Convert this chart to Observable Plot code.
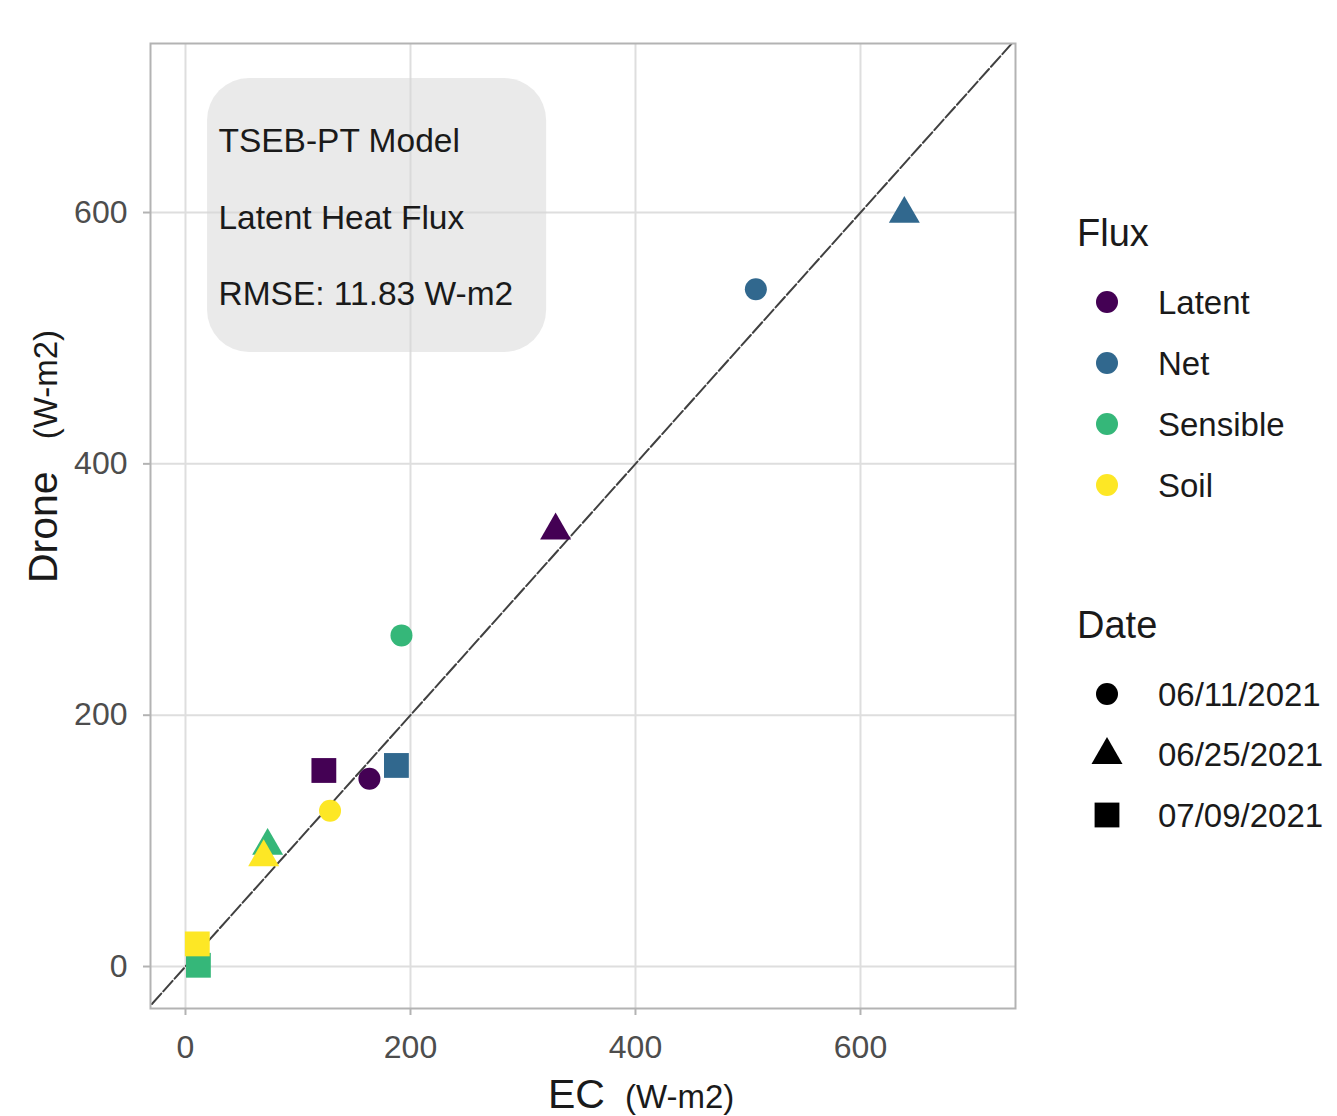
<!DOCTYPE html>
<html>
<head>
<meta charset="utf-8">
<script src="https://cdn.jsdelivr.net/npm/d3@7"></script>
<script src="https://cdn.jsdelivr.net/npm/@observablehq/plot@0.6"></script>
<style>
  body { margin: 0; background: #fff; font-family: "Liberation Sans", Arial, sans-serif; }
  #wrap { position: relative; width: 1337px; height: 1116px; overflow: hidden; }
  .lg { position: absolute; white-space: nowrap; line-height: 1; color: #1a1a1a; }
</style>
</head>
<body>
<div id="wrap"></div>
<script>
// ---- data ----
const fluxNames = ["Latent", "Net", "Sensible", "Soil"];
const fluxColors = ["#440154", "#31688E", "#35B779", "#FDE725"];
const dateLabels = ["06/11/2021", "06/25/2021", "07/09/2021"];
const dateSymbols = ["circle", "triangle", "square"];
const dateSizes = [11, 11.5, 14];

const pointFlux = ["Latent", "Latent", "Latent", "Net", "Net", "Net",
                   "Sensible", "Sensible", "Sensible", "Soil", "Soil", "Soil"];
const pointDate = ["06/11/2021", "06/25/2021", "07/09/2021",
                   "06/11/2021", "06/25/2021", "07/09/2021",
                   "06/11/2021", "06/25/2021", "07/09/2021",
                   "06/11/2021", "06/25/2021", "07/09/2021"];
const ecValues    = [163.5, 329, 123, 507, 639, 187.5, 192, 73, 11.5, 128.5, 69.5, 10.5];
const droneValues = [149.5, 347, 156, 539, 599, 160, 263.5, 96, 1, 124, 87, 18];

const xTicks = [0, 200, 400, 600];
const yTicks = [0, 200, 400, 600];
const xDomain = [-31.1, 737.8];
const yDomain = [-33.4, 734.5];
const oneToOne = [-50, 780];

const annoLines = ["TSEB-PT Model", "Latent Heat Flux", "RMSE: 11.83 W-m2"];
const annoBox = [{x1: 19.6, x2: 321, y1: 488.6, y2: 706.6}];
const annoText = [{x: 29.3, y: 606.5, label: annoLines.join("\n")}];

const points = pointFlux.map((f, i) => ({flux: f, date: pointDate[i], ec: ecValues[i], drone: droneValues[i]}));

const font = '"Liberation Sans", Arial, sans-serif';

const dotMarks = dateLabels.map((d, i) =>
  Plot.dot(points.filter(p => p.date === d), {
    x: "ec", y: "drone", fill: "flux", symbol: "date", r: dateSizes[i], stroke: "none"
  })
);

const plot = Plot.plot({
  width: 1337,
  height: 1116,
  marginLeft: 150,
  marginRight: 322,
  marginTop: 43,
  marginBottom: 108,
  style: {fontFamily: font, fontSize: "32px", background: "white", overflow: "visible"},
  x: {domain: xDomain},
  y: {domain: yDomain},
  color: {domain: fluxNames, range: fluxColors},
  symbol: {domain: dateLabels, range: dateSymbols},
  marks: [
    Plot.gridX(xTicks, {stroke: "#dedede", strokeOpacity: 1, strokeWidth: 2}),
    Plot.gridY(yTicks, {stroke: "#dedede", strokeOpacity: 1, strokeWidth: 2}),
    Plot.rect(annoBox, {x1: "x1", x2: "x2", y1: "y1", y2: "y2", fill: "#d6d6d6", fillOpacity: 0.5, rx: 42}),
    Plot.text(annoText, {x: "x", y: "y", text: "label", textAnchor: "start", lineAnchor: "middle",
      lineHeight: 2.28, fontSize: 33.5, fill: "#1a1a1a"}),
    Plot.line(oneToOne, {x: d => d, y: d => d, stroke: "#404040", strokeWidth: 2,
      strokeDasharray: "14,3", clip: true}),
    ...dotMarks,
    Plot.frame({stroke: "#b3b3b3", strokeWidth: 2}),
    Plot.axisX(xTicks, {tickSize: 7, tickPadding: 20, stroke: "#b3b3b3", strokeWidth: 2,
      fill: "#4d4d4d", fontSize: 32, label: null}),
    Plot.axisY(yTicks, {tickSize: 7, tickPadding: 16, stroke: "#b3b3b3", strokeWidth: 2,
      fill: "#4d4d4d", fontSize: 32, label: null})
  ]
});

const wrap = document.getElementById("wrap");
wrap.append(plot);

// ---- axis titles ----
const svg = d3.select(plot);
const xt = svg.append("text")
  .attr("x", 548).attr("y", 1108)
  .attr("text-anchor", "start")
  .attr("fill", "#1a1a1a").style("font-family", font);
xt.append("tspan").attr("font-size", 41).text("EC");
xt.append("tspan").attr("font-size", 33).attr("dx", 20).text("(W-m2)");

const yt = svg.append("text")
  .attr("transform", "translate(57,583) rotate(-90)")
  .attr("text-anchor", "start")
  .attr("fill", "#1a1a1a").style("font-family", font);
yt.append("tspan").attr("font-size", 41).text("Drone");
yt.append("tspan").attr("font-size", 33).attr("dx", 32).text("(W-m2)");

// ---- legends ----
function symbolPath(name, r) {
  const map = {circle: d3.symbolCircle, triangle: d3.symbolTriangle, square: d3.symbolSquare};
  return d3.symbol(map[name], Math.PI * r * r)();
}
function addTitle(text, centerY) {
  const el = document.createElement("div");
  el.className = "lg";
  el.style.left = "1077px";
  el.style.fontSize = "38px";
  el.style.top = (centerY - 0.49 * 38) + "px";
  el.textContent = text;
  wrap.append(el);
}
function addItem(label, centerY, shape, r, color) {
  const s = document.createElementNS("http://www.w3.org/2000/svg", "svg");
  s.setAttribute("width", 40); s.setAttribute("height", 40);
  s.style.position = "absolute";
  s.style.left = (1107 - 20) + "px";
  s.style.top = (centerY - 20) + "px";
  const p = document.createElementNS("http://www.w3.org/2000/svg", "path");
  p.setAttribute("d", symbolPath(shape, r));
  p.setAttribute("transform", "translate(20,20)");
  p.setAttribute("fill", color);
  s.append(p);
  wrap.append(s);
  const el = document.createElement("div");
  el.className = "lg";
  el.style.left = "1158px";
  el.style.fontSize = "33px";
  el.style.top = (centerY - 0.49 * 33) + "px";
  el.textContent = label;
  wrap.append(el);
}
const fluxTitleY = 233, fluxFirstY = 302, fluxStep = 61;
const dateTitleY = 625, dateFirstY = 694, dateStep = 60.5;
addTitle("Flux", fluxTitleY);
fluxNames.forEach((f, i) => addItem(f, fluxFirstY + i * fluxStep, "circle", 11, fluxColors[i]));
addTitle("Date", dateTitleY);
dateLabels.forEach((d, i) => addItem(d, dateFirstY + i * dateStep, dateSymbols[i], dateSizes[i], "#000"));
</script>
</body>
</html>
